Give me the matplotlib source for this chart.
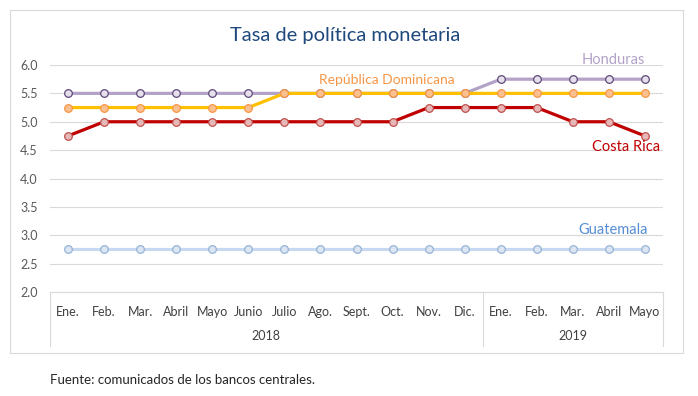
"""
Tasa de política monetaria - Centroamérica y Rep. Dominicana
"""

import matplotlib.pyplot as plt
from matplotlib.patches import Rectangle

meses = ['Ene.', 'Feb.', 'Mar.', 'Abril', 'Mayo', 'Junio', 'Julio', 'Ago.', 'Sept.',
         'Oct.', 'Nov.', 'Dic.', 'Ene.', 'Feb.', 'Mar.', 'Abril', 'Mayo']
anios = ['2018', '2019']
meses_por_anio = [12, 5]

honduras = [5.5] * 12 + [5.75] * 5
rep_dominicana = [5.25] * 6 + [5.5] * 11
costa_rica = [4.75, 5.0, 5.0, 5.0, 5.0, 5.0, 5.0, 5.0, 5.0, 5.0, 5.25, 5.25,
              5.25, 5.25, 5.0, 5.0, 4.75]
guatemala = [2.75] * 17

yticks = [2.0, 2.5, 3.0, 3.5, 4.0, 4.5, 5.0, 5.5, 6.0]

plt.rcParams['font.family'] = ['Lato', 'DejaVu Sans']

fig = plt.figure(figsize=(6.98, 3.96), dpi=100)
ax = fig.add_axes([50 / 698, 1 - 292 / 396, 613 / 698, 227 / 396])

x = list(range(len(meses)))

# estilo de cada serie: (datos, linea, relleno marcador, borde marcador)
series = [
    (honduras, '#b3a2c7', '#e6e0ec', '#5f497a'),
    (rep_dominicana, '#ffc000', '#fac090', '#f79646'),
    (costa_rica, '#c00000', '#e6b9b8', '#c0504d'),
    (guatemala, '#c6d9f1', '#dce6f2', '#95b3d7'),
]
for datos, c_linea, c_relleno, c_borde in series:
    ax.plot(x, datos, color=c_linea, lw=2.3, marker='o', ms=5.5,
            mfc=c_relleno, mec=c_borde, mew=0.9, zorder=3)

ax.set_xlim(-0.5, len(meses) - 0.5)
ax.set_ylim(2.0, 6.0)
ax.set_yticks(yticks)
ax.set_yticklabels([f'{v:.1f}' for v in yticks])
ax.tick_params(axis='y', length=0, pad=9, labelsize=9, labelcolor='#595959')
ax.grid(axis='y', color='#d9d9d9', lw=0.8)
ax.set_axisbelow(True)
for s in ['top', 'right', 'left']:
    ax.spines[s].set_visible(False)
ax.spines['bottom'].set_color('#d9d9d9')

# eje de categorias con dos niveles
ax.set_xticks(x)
ax.set_xticklabels(meses)
ax.tick_params(axis='x', length=0, pad=10, labelsize=9, labelcolor='#404040')
trans = ax.get_xaxis_transform()
inicio = 0
bordes = [-0.5]
for anio, n in zip(anios, meses_por_anio):
    centro = inicio + (n - 1) / 2
    ax.text(centro, -44 / 227, anio, transform=trans, ha='center', va='center',
            fontsize=9, color='#404040')
    inicio += n
    bordes.append(inicio - 0.5)
for b in bordes:
    ax.plot([b, b], [0, -54 / 227], transform=trans, color='#d9d9d9', lw=0.8,
            clip_on=False)

# etiquetas de las series
ax.text(15.12, 6.09, 'Honduras', color='#b3a2c7', fontsize=10.5, ha='center', va='center')
ax.text(8.85, 5.74, 'República Dominicana', color='#f79646', fontsize=10,
        ha='center', va='center')
ax.text(15.47, 4.56, 'Costa Rica', color='#c00000', fontsize=10.5, ha='center', va='center')
ax.text(15.11, 3.09, 'Guatemala', color='#558ed5', fontsize=10.5, ha='center', va='center')

fig.text(345 / 698, 1 - 36 / 396, 'Tasa de política monetaria', ha='center', va='center',
         fontsize=14.5, color='#1f497d')
fig.text(50 / 698, 1 - 380 / 396, 'Fuente: comunicados de los bancos centrales.',
         ha='left', va='center', fontsize=9.5, color='#262626')

fig.patches.append(Rectangle((10 / 698, 1 - 353 / 396), 673 / 698, 343 / 396,
                             transform=fig.transFigure, fill=False,
                             edgecolor='#d9d9d9', lw=0.8))

fig.savefig('out.png', dpi=100)
